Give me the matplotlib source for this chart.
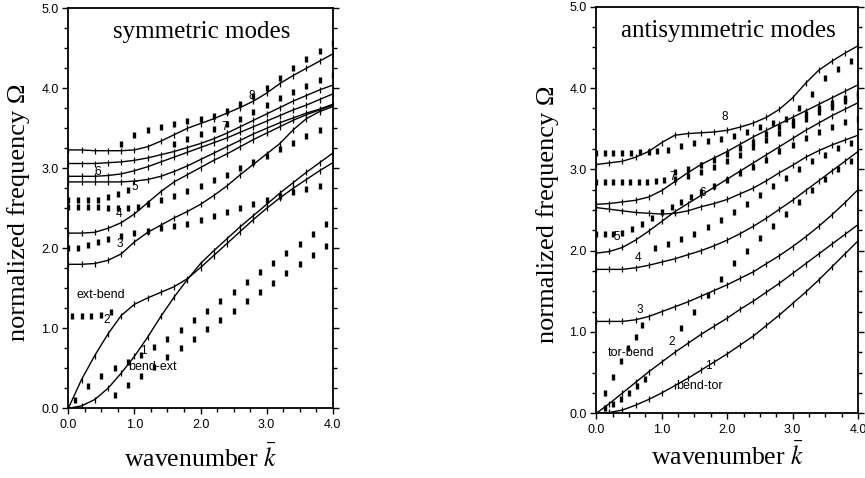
import matplotlib.pyplot as plt
from matplotlib.ticker import MultipleLocator

# wavenumber grid of the solid (computed) curves
k_grid = [0.0, 0.2, 0.4, 0.6, 0.8, 1.0, 1.2, 1.4, 1.6, 1.8, 2.0,
          2.2, 2.4, 2.6, 2.8, 3.0, 3.2, 3.4, 3.6, 3.8, 4.0]

# ---- symmetric modes: solid curves 1..8 ----
sym_1 = [0.00, 0.03, 0.11, 0.25, 0.44, 0.65, 0.89, 1.15, 1.39, 1.61, 1.81,
         1.97, 2.12, 2.27, 2.41, 2.55, 2.69, 2.82, 2.95, 3.07, 3.19]
sym_2 = [0.00, 0.36, 0.66, 0.93, 1.16, 1.30, 1.38, 1.45, 1.52, 1.62, 1.76,
         1.91, 2.06, 2.21, 2.36, 2.50, 2.63, 2.75, 2.86, 2.97, 3.07]
sym_3 = [1.80, 1.80, 1.81, 1.85, 1.93, 2.08, 2.20, 2.29, 2.38, 2.46, 2.55,
         2.66, 2.78, 2.92, 3.05, 3.18, 3.31, 3.48, 3.62, 3.71, 3.77]
sym_4 = [2.19, 2.19, 2.20, 2.25, 2.32, 2.43, 2.57, 2.71, 2.83, 2.92, 3.01,
         3.10, 3.18, 3.27, 3.36, 3.44, 3.52, 3.60, 3.67, 3.73, 3.79]
sym_5 = [2.83, 2.83, 2.83, 2.83, 2.83, 2.84, 2.86, 2.90, 2.96, 3.03, 3.11,
         3.19, 3.27, 3.35, 3.43, 3.50, 3.57, 3.63, 3.69, 3.74, 3.80]
sym_6 = [2.90, 2.90, 2.90, 2.91, 2.93, 2.97, 3.02, 3.08, 3.14, 3.20, 3.26,
         3.32, 3.38, 3.45, 3.52, 3.59, 3.66, 3.73, 3.79, 3.86, 3.93]
sym_7 = [3.06, 3.06, 3.06, 3.07, 3.08, 3.10, 3.13, 3.17, 3.21, 3.26, 3.31,
         3.37, 3.44, 3.52, 3.60, 3.68, 3.76, 3.84, 3.91, 3.98, 4.04]
sym_8 = [3.23, 3.23, 3.22, 3.22, 3.22, 3.23, 3.27, 3.34, 3.42, 3.50, 3.56,
         3.62, 3.69, 3.76, 3.84, 3.94, 4.06, 4.16, 4.25, 4.34, 4.43]

# ---- symmetric modes: dotted (measured) series ----
sym_dot_a_k = [0.7, 0.9, 1.1, 1.3, 1.5, 1.7, 1.9, 2.1, 2.3, 2.5, 2.7, 2.9,
               3.1, 3.3, 3.5, 3.7, 3.9]
sym_dot_a = [0.17, 0.29, 0.41, 0.52, 0.64, 0.76, 0.87, 0.99, 1.11, 1.22,
             1.34, 1.45, 1.57, 1.69, 1.80, 1.92, 2.03]
sym_dot_b_k = [0.1, 0.3, 0.5, 0.7, 0.9, 1.1, 1.3, 1.5, 1.7, 1.9, 2.1, 2.3,
               2.5, 2.7, 2.9, 3.1, 3.3, 3.5, 3.7, 3.9]
sym_dot_b = [0.10, 0.28, 0.40, 0.50, 0.58, 0.67, 0.77, 0.87, 0.98, 1.10,
             1.22, 1.34, 1.46, 1.58, 1.70, 1.82, 1.94, 2.06, 2.18, 2.30]
sym_dot_c_k = [0.05, 0.2, 0.35, 0.5, 0.65]
sym_dot_c = [1.16, 1.16, 1.16, 1.17, 1.20]
sym_dot_d_k = [0.0, 0.15, 0.3, 0.45, 0.6, 0.8, 1.0, 1.2, 1.4, 1.6, 1.8, 2.0,
               2.2, 2.4, 2.6, 2.8, 3.0, 3.2, 3.4, 3.6, 3.8]
sym_dot_d = [2.00, 2.01, 2.04, 2.08, 2.12, 2.16, 2.19, 2.22, 2.25, 2.28,
             2.31, 2.35, 2.40, 2.45, 2.50, 2.55, 2.60, 2.65, 2.70, 2.74, 2.78]
sym_dot_e_k = [0.0, 0.15, 0.3, 0.45, 0.6, 0.75, 0.9]
sym_dot_e = [2.60, 2.60, 2.60, 2.61, 2.64, 2.68, 2.73]
sym_dot_f_k = [0.0, 0.15, 0.3, 0.45, 0.6, 0.75, 0.9, 1.05, 1.2, 1.4, 1.6,
               1.8, 2.0, 2.2, 2.4, 2.6, 2.8, 3.0, 3.2, 3.4, 3.6, 3.8]
sym_dot_f = [2.52, 2.52, 2.52, 2.52, 2.51, 2.50, 2.50, 2.52, 2.55, 2.60,
             2.66, 2.72, 2.78, 2.85, 2.92, 3.00, 3.08, 3.16, 3.24, 3.32,
             3.40, 3.48]
sym_dot_g_k = [0.8, 1.0, 1.2, 1.4, 1.6, 1.8, 2.0, 2.2, 2.4, 2.6, 2.8, 3.0,
               3.2, 3.4, 3.6, 3.8, 4.0]
sym_dot_g = [3.31, 3.42, 3.48, 3.52, 3.56, 3.59, 3.62, 3.66, 3.72, 3.80,
             3.90, 4.01, 4.13, 4.25, 4.37, 4.47, 4.57]
sym_dot_h_k = [1.6, 1.8, 2.0, 2.2, 2.4, 2.6, 2.8, 3.0, 3.2, 3.4, 3.6, 3.8,
               4.0]
sym_dot_h = [3.30, 3.37, 3.43, 3.49, 3.55, 3.62, 3.70, 3.79, 3.88, 3.96,
             4.03, 4.10, 4.17]

# ---- antisymmetric modes: solid curves 1..8 ----
anti_1 = [0.00, 0.01, 0.04, 0.10, 0.17, 0.25, 0.34, 0.43, 0.53, 0.63, 0.73,
          0.84, 0.95, 1.08, 1.21, 1.35, 1.49, 1.64, 1.80, 1.96, 2.12]
anti_2 = [0.00, 0.12, 0.25, 0.38, 0.51, 0.63, 0.75, 0.86, 0.97, 1.07, 1.17,
          1.28, 1.38, 1.49, 1.60, 1.72, 1.84, 1.96, 2.08, 2.20, 2.32]
anti_3 = [1.13, 1.13, 1.13, 1.15, 1.19, 1.25, 1.31, 1.37, 1.44, 1.51, 1.58,
          1.66, 1.74, 1.84, 1.94, 2.05, 2.17, 2.30, 2.44, 2.59, 2.75]
anti_4 = [1.77, 1.77, 1.77, 1.79, 1.82, 1.86, 1.90, 1.95, 2.00, 2.06, 2.13,
          2.21, 2.30, 2.40, 2.51, 2.62, 2.74, 2.86, 2.98, 3.10, 3.22]
anti_5 = [1.97, 1.99, 2.04, 2.13, 2.24, 2.36, 2.48, 2.58, 2.68, 2.78, 2.88,
          2.98, 3.08, 3.18, 3.28, 3.38, 3.48, 3.57, 3.66, 3.74, 3.82]
anti_6 = [2.53, 2.51, 2.49, 2.47, 2.46, 2.45, 2.46, 2.49, 2.54, 2.58, 2.63,
          2.70, 2.77, 2.86, 2.96, 3.05, 3.15, 3.23, 3.30, 3.36, 3.42]
anti_7 = [2.57, 2.58, 2.60, 2.62, 2.66, 2.74, 2.85, 2.96, 3.06, 3.14, 3.22,
          3.31, 3.40, 3.48, 3.56, 3.64, 3.72, 3.80, 3.88, 3.96, 4.04]
anti_8 = [3.06, 3.08, 3.10, 3.15, 3.22, 3.33, 3.42, 3.44, 3.45, 3.46, 3.48,
          3.52, 3.57, 3.64, 3.74, 3.88, 4.06, 4.22, 4.33, 4.43, 4.52]

# ---- antisymmetric modes: dotted series ----
anti_dot_a_k = [0.13, 0.25, 0.37, 0.49, 0.6, 0.7]
anti_dot_a = [0.25, 0.45, 0.64, 0.80, 0.94, 1.09]
anti_dot_b_k = [0.13, 0.25, 0.37, 0.5, 0.62, 0.75]
anti_dot_b = [0.07, 0.12, 0.18, 0.25, 0.33, 0.42]
anti_dot_c_k = [1.3, 1.5, 1.7, 1.9, 2.1, 2.3, 2.5, 2.7, 2.9, 3.1, 3.3, 3.5,
                3.7, 3.9]
anti_dot_c = [1.05, 1.25, 1.45, 1.65, 1.85, 2.00, 2.15, 2.30, 2.45, 2.60,
              2.75, 2.88, 3.00, 3.10]
anti_dot_d_k = [0.0, 0.13, 0.26, 0.4, 0.55, 0.7, 0.85, 1.0, 1.15, 1.3, 1.45,
                1.6, 1.8, 2.0, 2.2, 2.4, 2.6, 2.8, 3.0, 3.2, 3.4, 3.6, 3.8,
                4.0]
anti_dot_d = [2.20, 2.20, 2.20, 2.22, 2.27, 2.33, 2.40, 2.47, 2.54, 2.60,
              2.66, 2.72, 2.80, 2.87, 2.95, 3.03, 3.12, 3.22, 3.30, 3.38,
              3.46, 3.52, 3.58, 3.62]
anti_dot_e_k = [0.0, 0.13, 0.26, 0.39, 0.52, 0.65, 0.78, 0.91, 1.04, 1.2, 1.4,
                1.6, 1.8, 2.0, 2.2, 2.4, 2.6, 2.8, 3.0, 3.2, 3.4, 3.6, 3.8,
                4.0]
anti_dot_e = [2.85, 2.85, 2.85, 2.85, 2.85, 2.85, 2.85, 2.86, 2.87, 2.88,
              2.92, 2.97, 3.03, 3.10, 3.18, 3.27, 3.36, 3.45, 3.54, 3.62,
              3.70, 3.77, 3.84, 3.90]
anti_dot_f_k = [1.2, 1.4, 1.6, 1.8, 2.0, 2.2, 2.4, 2.6, 2.8, 3.0, 3.2, 3.4,
                3.6, 3.8, 4.0]
anti_dot_f = [2.97, 3.01, 3.06, 3.12, 3.19, 3.26, 3.34, 3.43, 3.52, 3.60,
              3.68, 3.75, 3.82, 3.88, 3.94]
anti_dot_g_k = [0.0, 0.13, 0.26, 0.4, 0.53, 0.66, 0.8, 0.93, 1.1, 1.3, 1.5,
                1.7, 1.9, 2.1, 2.3, 2.5, 2.7, 2.9, 3.1, 3.3, 3.5, 3.7, 3.9]
anti_dot_g = [3.20, 3.20, 3.20, 3.20, 3.20, 3.21, 3.21, 3.22, 3.24, 3.29,
              3.32, 3.35, 3.37, 3.41, 3.46, 3.52, 3.57, 3.62, 3.75, 3.93,
              4.12, 4.24, 4.33]
anti_dot_h_k = [0.9, 1.1, 1.3, 1.5, 1.7, 1.9, 2.1, 2.3, 2.5, 2.7, 2.9, 3.1,
                3.3, 3.5, 3.7, 3.9]
anti_dot_h = [2.03, 2.08, 2.14, 2.21, 2.29, 2.38, 2.47, 2.57, 2.68, 2.79,
              2.90, 3.00, 3.10, 3.18, 3.26, 3.33]

tick_labels = ["0.0", "1.0", "2.0", "3.0", "4.0", "5.0"]

plt.rcParams['font.family'] = ['Liberation Sans', 'DejaVu Sans']
plt.rcParams['mathtext.fontset'] = 'stix'
serif = ['Liberation Serif', 'DejaVu Serif']

fig = plt.figure(figsize=(8.65, 4.78), dpi=100)
ax_s = fig.add_axes([0.079, 0.1458, 0.3057, 0.8368])
ax_a = fig.add_axes([0.6894, 0.1354, 0.3025, 0.8504])

panels = [
    (ax_s, "symmetric modes",
     [sym_1, sym_2, sym_3, sym_4, sym_5, sym_6, sym_7, sym_8],
     [(sym_dot_a_k, sym_dot_a), (sym_dot_b_k, sym_dot_b),
      (sym_dot_c_k, sym_dot_c), (sym_dot_d_k, sym_dot_d),
      (sym_dot_e_k, sym_dot_e), (sym_dot_f_k, sym_dot_f),
      (sym_dot_g_k, sym_dot_g), (sym_dot_h_k, sym_dot_h)]),
    (ax_a, "antisymmetric modes",
     [anti_1, anti_2, anti_3, anti_4, anti_5, anti_6, anti_7, anti_8],
     [(anti_dot_a_k, anti_dot_a), (anti_dot_b_k, anti_dot_b),
      (anti_dot_c_k, anti_dot_c), (anti_dot_d_k, anti_dot_d),
      (anti_dot_e_k, anti_dot_e), (anti_dot_f_k, anti_dot_f),
      (anti_dot_g_k, anti_dot_g), (anti_dot_h_k, anti_dot_h)]),
]

for ax, title, curves, dots in panels:
    for omega in curves:
        ax.plot(k_grid, omega, color='black', lw=1.0, marker='|', ms=4.5,
                mew=0.9)
    for k, omega in dots:
        ax.plot(k, omega, ls='none', color='black', marker='|', ms=5,
                mew=2.4)

    ax.set_xlim(0, 4)
    ax.set_ylim(0, 5)
    ax.set_xticks([0, 1, 2, 3, 4])
    ax.set_xticklabels(tick_labels[:5])
    ax.set_yticks([0, 1, 2, 3, 4, 5])
    ax.set_yticklabels(tick_labels)
    ax.xaxis.set_minor_locator(MultipleLocator(0.25))
    ax.yaxis.set_minor_locator(MultipleLocator(0.25))
    ax.tick_params(which='both', direction='out', right=True, top=False,
                   width=1.0, labelsize=9)
    ax.tick_params(which='major', length=4.5, pad=2.5)
    ax.tick_params(axis='x', which='major', pad=3.5)
    ax.tick_params(which='minor', length=2.8)
    for sp in ax.spines.values():
        sp.set_linewidth(1.3)

    ax.text(2.02, 4.63, title, ha='center', va='baseline', family=serif,
            size=18)
    ax.set_xlabel("wavenumber $\\bar{k}$", family=serif, size=18.5,
                  va='baseline')
    ax.set_ylabel("normalized frequency \u03a9", family=serif, size=19,
                  va='center')
    ax.yaxis.set_label_coords(-0.187, 0.49)

ax_s.xaxis.set_label_coords(0.5, -0.147)
ax_a.xaxis.set_label_coords(0.5, -0.127)

# mode numbers and branch names, symmetric panel
for txt, k, om in [("1", 1.13, 0.72), ("2", 0.58, 1.10), ("3", 0.78, 2.05),
                   ("4", 0.76, 2.43), ("5", 1.0, 2.77), ("6", 0.44, 2.96),
                   ("7", 2.37, 3.52), ("8", 2.77, 3.90)]:
    ax_s.text(k, om, txt, ha='center', va='center', size=8.5)
ax_s.text(0.12, 1.42, "ext-bend", ha='left', va='center', size=9)
ax_s.text(0.90, 0.52, "bend-ext", ha='left', va='center', size=9)

# mode numbers and branch names, antisymmetric panel
for txt, k, om in [("1", 1.71, 0.58), ("2", 1.15, 0.88), ("3", 0.66, 1.27),
                   ("4", 0.64, 1.91), ("5", 0.31, 2.17), ("6", 1.62, 2.71),
                   ("7", 1.17, 2.91), ("8", 1.97, 3.64)]:
    ax_a.text(k, om, txt, ha='center', va='center', size=8.5)
ax_a.text(0.18, 0.74, "tor-bend", ha='left', va='center', size=9)
ax_a.text(1.22, 0.33, "bend-tor", ha='left', va='center', size=9)

fig.savefig("out.png", dpi=100)
